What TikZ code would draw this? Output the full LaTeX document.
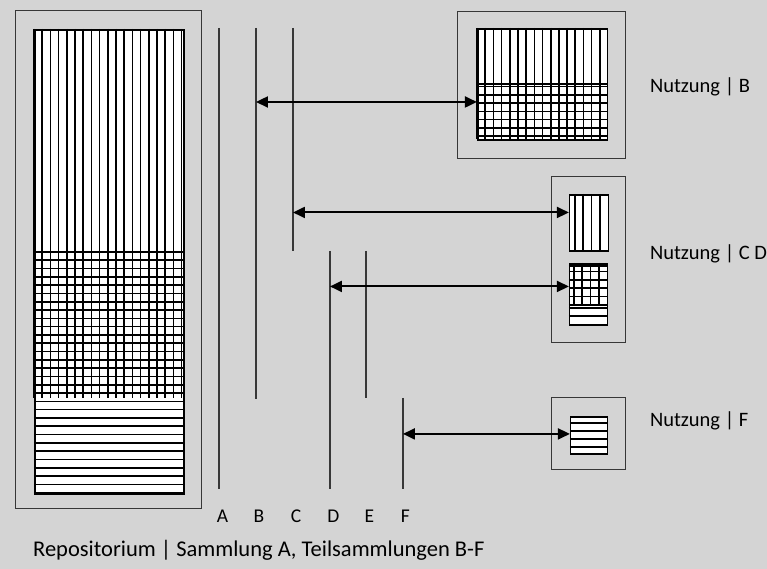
\documentclass[tikz,border=0pt]{standalone}
\usepackage{fontspec}
\setmainfont{Carlito}
\usetikzlibrary{arrows.meta, positioning, calc}
\definecolor{paneground}{RGB}{212, 212, 212}
\definecolor{framegray}{RGB}{55, 55, 55}

\begin{document}
\begin{tikzpicture}[x=1pt, y=-1pt,
    frame/.style={draw=framegray, line width=1.4pt, anchor=north west, inner sep=0pt},
    holding/.style={draw=black, line width=1.6pt, fill=white, anchor=north west, inner sep=0pt},
    hatch/.style={black, line width=1.6pt},
    subline/.style={framegray, line width=1.5pt},
    link/.style={{Triangle[length=12pt, width=11pt]}-{Triangle[length=12pt, width=11pt]}, line width=2pt},
    lbl/.style={font=\fontsize{19.5}{23}\selectfont, inner sep=0pt}]
    \fill[paneground] (0,0) rectangle (767,569);

    % Repositorium with Sammlung A
    \node[frame, minimum width=186, minimum height=498] (repo) at (15,10) {};
    \node[holding, minimum width=149, minimum height=464] (repoIn) at (34,29) {};
    \foreach \x in {34,42.2,...,183} \draw[hatch] (\x,29) -- (\x,398);
    \foreach \y in {252,260.3,...,493} \draw[hatch] (34,\y) -- (183,\y);

    % Nutzung B
    \node[frame, minimum width=168, minimum height=147] (useB) at (457,11) {};
    \node[holding, minimum width=130, minimum height=111] (useBin) at (477,28) {};
    \foreach \x in {477,485.2,...,607} \draw[hatch] (\x,28) -- (\x,139);
    \draw[hatch] (477,84) -- (607,84);
    \foreach \y in {86.5,94.8,...,139} \draw[hatch] (477,\y) -- (607,\y);

    % Nutzung C D
    \node[frame, minimum width=74, minimum height=166] (useCD) at (551,176) {};
    \node[holding, minimum width=39, minimum height=56] (useCin) at (569,194) {};
    \foreach \x in {575,583.3,...,608} \draw[hatch] (\x,194) -- (\x,250);
    \node[holding, minimum width=38, minimum height=61] (useDin) at (569,263) {};
    \foreach \x in {574,582.3,...,607} \draw[hatch] (\x,263) -- (\x,305);
    \foreach \y in {266,271.4,279.8,288.2,296.6,305,308,316} \draw[hatch] (569,\y) -- (607,\y);

    % Nutzung F
    \node[frame, minimum width=74, minimum height=72] (useF) at (551,397) {};
    \node[holding, minimum width=37, minimum height=37] (useFin) at (570,416) {};
    \foreach \y in {423,431,439,447} \draw[hatch] (570,\y) -- (607,\y);

    % Teilsammlungen A-F
    \coordinate (aTop) at (219,28);  \coordinate (aEnd) at (219,489);
    \coordinate (bTop) at (256,28);  \coordinate (bEnd) at (256,399);
    \coordinate (cTop) at (293,28);  \coordinate (cEnd) at (293,251);
    \coordinate (dTop) at (330,251); \coordinate (dEnd) at (330,489);
    \coordinate (eTop) at (366,251); \coordinate (eEnd) at (366,398);
    \coordinate (fTop) at (403,398); \coordinate (fEnd) at (403,489);
    \draw[subline] (aTop) -- (aEnd);
    \draw[subline] (bTop) -- (bEnd);
    \draw[subline] (cTop) -- (cEnd);
    \draw[subline] (dTop) -- (dEnd);
    \draw[subline] (eTop) -- (eEnd);
    \draw[subline] (fTop) -- (fEnd);

    \node[lbl, anchor=base] (labA) at (222.5,522.5) {A};
    \node[lbl, anchor=base] (labB) at (259,522.5) {B};
    \node[lbl, anchor=base] (labC) at (296,522.5) {C};
    \node[lbl, anchor=base] (labD) at (333.5,522.5) {D};
    \node[lbl, anchor=base] (labE) at (369.5,522.5) {E};
    \node[lbl, anchor=base] (labF) at (405.5,522.5) {F};

    % Zugriffe
    \coordinate (bArr) at (256,102);
    \coordinate (cArr) at (293,212.5);
    \coordinate (dArr) at (330,286.5);
    \coordinate (fArr) at (403,434);
    \draw[link] (bArr) -- (bArr -| useBin.west);
    \draw[link] (cArr) -- (cArr -| useCin.west);
    \draw[link] (dArr) -- (dArr -| useDin.west);
    \draw[link] (fArr) -- (fArr -| useFin.west);

    \node[lbl, font=\fontsize{20.5}{24}\selectfont, anchor=base west] (nutzB) at (650,93) {Nutzung | B};
    \node[lbl, font=\fontsize{20.5}{24}\selectfont, anchor=base west] (nutzCD) at (650,260) {Nutzung | C D};
    \node[lbl, font=\fontsize{20.5}{24}\selectfont, anchor=base west] (nutzF) at (650,426.5) {Nutzung | F};
    \node[lbl, font=\fontsize{22.5}{26}\selectfont, anchor=base west] (title) at (33,557) {Repositorium | Sammlung A, Teilsammlungen B-F};
\end{tikzpicture}
\end{document}
